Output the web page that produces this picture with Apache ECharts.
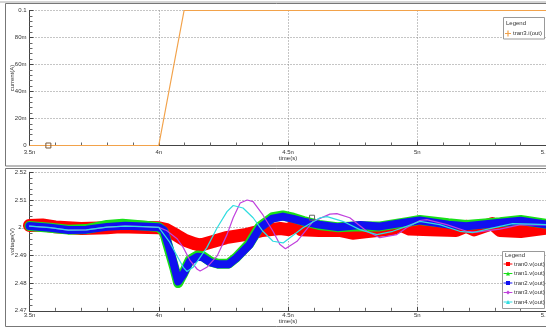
<!DOCTYPE html>
<html>
<head>
<meta charset="utf-8">
<script src="https://cdn.jsdelivr.net/npm/echarts@6/dist/echarts.min.js"></script>
<style>
html,body{margin:0;padding:0;background:#fff;}
#c{width:546px;height:331px;}
</style>
</head>
<body>
<div id="c"></div>
<script>
// ---- tick labels ----
const timeTicks = ['3.5n', '4n', '4.5n', '5n', '5.5n'];
const currentTicks = ['0', '20m', '40m', '60m', '80m', '0.1'];
const voltageTicks = ['2.47', '2.48', '2.49', '2.5', '2.51', '2.52'];

// ---- top panel: tran3.i(out) (time in ns, current in A) ----
const currentT = [3.5, 4.0, 4.098, 5.5];
const currentV = [0, 0, 0.1, 0.1];
const cursorTop = [3.573, 0];

// ---- bottom panel: v(out) (time in ns, voltage in V) ----
const tran0T = [3.5, 3.55, 3.6, 3.7, 3.8, 3.85, 3.92, 4.0, 4.03, 4.07, 4.1, 4.14, 4.16, 4.19, 4.21, 4.26, 4.34, 4.4, 4.47, 4.5, 4.535, 4.55, 4.62, 4.7, 4.75, 4.8, 4.9, 4.94, 4.97, 5.05, 5.15, 5.19, 5.22, 5.29, 5.32, 5.4, 5.5];
const tran0V = [2.5008, 2.5010, 2.5003, 2.4997, 2.5000, 2.5003, 2.5002, 2.5000, 2.4993, 2.4972, 2.4955, 2.4942, 2.4937, 2.4945, 2.4950, 2.4964, 2.4976, 2.4990, 2.4997, 2.4993, 2.5010, 2.4993, 2.4990, 2.4990, 2.4980, 2.4985, 2.4995, 2.5008, 2.4995, 2.4993, 2.4990, 2.5005, 2.4992, 2.5015, 2.4990, 2.4986, 2.4998];

const tran1T = [3.5, 3.58, 3.65, 3.72, 3.8, 3.86, 3.94, 4.0, 4.02, 4.04, 4.06, 4.075, 4.095, 4.12, 4.15, 4.17, 4.2, 4.23, 4.27, 4.3, 4.35, 4.39, 4.44, 4.48, 4.52, 4.56, 4.62, 4.69, 4.78, 4.85, 4.96, 5.01, 5.12, 5.19, 5.32, 5.4, 5.5];
const tran1V = [2.5006, 2.5000, 2.4993, 2.4995, 2.5010, 2.5014, 2.5008, 2.5002, 2.4985, 2.4920, 2.4855, 2.4800, 2.4835, 2.4884, 2.4900, 2.4897, 2.4878, 2.4870, 2.4870, 2.4893, 2.4942, 2.5003, 2.5038, 2.5044, 2.5036, 2.5024, 2.5010, 2.5002, 2.5005, 2.5004, 2.5020, 2.5028, 2.5016, 2.5010, 2.5020, 2.5028, 2.5014];

const tran2T = [3.5, 3.58, 3.65, 3.72, 3.8, 3.87, 3.94, 4.0, 4.02, 4.04, 4.06, 4.075, 4.095, 4.12, 4.15, 4.17, 4.2, 4.23, 4.27, 4.3, 4.35, 4.39, 4.44, 4.48, 4.52, 4.56, 4.62, 4.69, 4.78, 4.85, 4.96, 5.01, 5.12, 5.19, 5.32, 5.4, 5.5];
const tran2V = [2.5006, 2.5000, 2.4992, 2.4993, 2.5003, 2.5007, 2.5004, 2.5002, 2.4990, 2.4930, 2.4862, 2.4806, 2.4832, 2.4878, 2.4895, 2.4893, 2.4875, 2.4868, 2.4868, 2.4890, 2.4937, 2.4998, 2.5033, 2.5040, 2.5032, 2.5022, 2.5011, 2.5002, 2.5010, 2.5004, 2.5020, 2.5026, 2.5011, 2.5005, 2.5018, 2.5025, 2.5011];

const tran3T = [3.5, 3.58, 3.65, 3.72, 3.8, 3.87, 3.94, 4.0, 4.03, 4.071, 4.095, 4.122, 4.149, 4.16, 4.186, 4.226, 4.264, 4.288, 4.315, 4.342, 4.365, 4.403, 4.442, 4.469, 4.49, 4.535, 4.597, 4.662, 4.689, 4.739, 4.805, 4.855, 4.921, 4.959, 5.01, 5.037, 5.114, 5.191, 5.23, 5.32, 5.396, 5.5];
const tran3V = [2.5006, 2.5000, 2.4991, 2.4992, 2.5002, 2.5006, 2.5004, 2.5001, 2.4990, 2.4960, 2.4928, 2.4880, 2.4850, 2.4844, 2.4857, 2.4898, 2.4975, 2.5036, 2.5089, 2.5100, 2.5094, 2.5046, 2.4987, 2.4939, 2.4924, 2.4951, 2.5023, 2.5049, 2.5051, 2.5036, 2.4987, 2.4964, 2.4975, 2.5000, 2.5026, 2.5029, 2.5011, 2.4987, 2.4984, 2.4995, 2.5010, 2.5010];

const tran4T = [3.5, 3.58, 3.65, 3.72, 3.8, 3.87, 3.94, 4.0, 4.04, 4.071, 4.095, 4.109, 4.133, 4.186, 4.226, 4.264, 4.288, 4.326, 4.365, 4.403, 4.442, 4.481, 4.558, 4.624, 4.651, 4.712, 4.778, 4.844, 4.905, 4.959, 5.01, 5.087, 5.164, 5.214, 5.32, 5.369, 5.446, 5.5];
const tran4V = [2.5006, 2.5000, 2.4991, 2.4992, 2.5002, 2.5006, 2.5004, 2.5001, 2.4951, 2.4898, 2.4857, 2.4842, 2.4857, 2.4928, 2.5000, 2.5058, 2.5080, 2.5071, 2.5036, 2.4987, 2.4951, 2.4945, 2.5000, 2.5036, 2.5040, 2.5023, 2.4993, 2.4975, 2.4987, 2.5005, 2.5023, 2.5011, 2.4987, 2.4982, 2.5005, 2.5015, 2.5013, 2.5011];
const cursorBottom = [4.593, 2.5036];

const seriesNames = ['tran0.v(out)', 'tran1.v(out)', 'tran2.v(out)', 'tran3.v(out)', 'tran4.v(out)'];

// ---- build ----
const zip = (t, v) => t.map((x, i) => [x, v[i]]);
const FONT = 'Liberation Sans, Arial, sans-serif';
const txt = { fontSize: 6, color: '#333', fontFamily: FONT };

function xAxisCfg(gridIndex, labelMargin, nameGap) {
  return {
    type: 'value', gridIndex, min: 3.5, max: 5.5, interval: 0.5,
    name: 'time(s)', nameLocation: 'middle', nameGap, nameTextStyle: txt, nameMoveOverlap: false,
    axisLine: { show: true, onZero: false, lineStyle: { color: '#444', width: 1 } },
    axisTick: { show: true, inside: true, length: 4, lineStyle: { color: '#444' } },
    minorTick: { show: true, splitNumber: 5, length: 3, lineStyle: { color: '#666' } },
    axisLabel: Object.assign({ margin: labelMargin, formatter: v => timeTicks[Math.round((v - 3.5) / 0.5)] }, txt),
    splitLine: { show: true, lineStyle: { color: '#8a8a8a', type: [1, 2], width: 1 } }
  };
}
function yAxisCfg(gridIndex, name, min, max, interval, ticks) {
  return {
    type: 'value', gridIndex, min, max, interval,
    name, nameLocation: 'middle', nameGap: 14, nameRotate: 90, nameTextStyle: txt, nameMoveOverlap: false,
    axisLine: { show: true, onZero: false, lineStyle: { color: '#444', width: 1 } },
    axisTick: { show: true, inside: true, length: 4, lineStyle: { color: '#444' } },
    minorTick: { show: true, splitNumber: 5, length: 3, lineStyle: { color: '#666' } },
    axisLabel: Object.assign({ margin: 3, formatter: v => ticks[Math.round((v - min) / interval)] }, txt),
    splitLine: { show: true, lineStyle: { color: '#8a8a8a', type: [1, 2], width: 1 } }
  };
}

const colors = ['#ff0000', '#18e018', '#1010f0', '#c040dd', '#30dde0'];
const widths = [13, 10, 8, 1.2, 1.2];
const symbols = ['rect', 'triangle', 'rect', 'diamond', 'triangle'];
const bottomData = [zip(tran0T, tran0V), zip(tran1T, tran1V), zip(tran2T, tran2V), zip(tran3T, tran3V), zip(tran4T, tran4V)];

const series = [{
  name: 'tran3.i(out)', type: 'line', xAxisIndex: 0, yAxisIndex: 0,
  data: zip(currentT, currentV), showSymbol: false, symbol: 'none',
  lineStyle: { color: '#f2a24a', width: 1.2 }, itemStyle: { color: '#f2a24a' },
  animation: false,
  markPoint: {
    symbol: 'rect', symbolSize: 5, label: { show: false }, silent: true,
    itemStyle: { color: 'rgba(0,0,0,0)', borderColor: '#7a5a3a', borderWidth: 1 },
    data: [{ coord: cursorTop }]
  }
}];
bottomData.forEach((d, i) => {
  const s = {
    name: seriesNames[i], type: 'line', xAxisIndex: 1, yAxisIndex: 1,
    data: d, showSymbol: false, symbol: symbols[i], symbolSize: 5,
    lineStyle: { color: colors[i], width: widths[i], cap: 'round', join: 'round' },
    itemStyle: { color: colors[i] }, animation: false, z: 2 + i * 0.1
  };
  if (i === 4) {
    s.markPoint = {
      symbol: 'rect', symbolSize: 5, label: { show: false }, silent: true,
      itemStyle: { color: 'rgba(0,0,0,0)', borderColor: '#666', borderWidth: 1 },
      data: [{ coord: cursorBottom }]
    };
  }
  series.push(s);
});

const chart = echarts.init(document.getElementById('c'), null, { renderer: 'canvas' });
chart.setOption({
  animation: false,
  backgroundColor: '#fff',
  grid: [
    { left: 29.5, top: 10.5, width: 517, height: 135, containLabel: false, outerBoundsMode: 'none' },
    { left: 29.5, top: 172.3, width: 517, height: 138.5, containLabel: false, outerBoundsMode: 'none' }
  ],
  xAxis: [xAxisCfg(0, 4, 10), xAxisCfg(1, 2, 8)],
  yAxis: [
    yAxisCfg(0, 'current(A)', 0, 0.1, 0.02, currentTicks),
    yAxisCfg(1, 'voltage(V)', 2.47, 2.52, 0.01, voltageTicks)
  ],
  legend: [
    {
      data: [{ name: 'tran3.i(out)', icon: 'path://M4,0h2v10h-2z M0,4h10v2h-10z' }],
      left: 505, top: 30.5, itemWidth: 6, itemHeight: 6, itemGap: 2, padding: 0,
      textStyle: Object.assign({ padding: [0, 0, 0, -3] }, txt), selectedMode: false, z: 10
    },
    {
      data: seriesNames, orient: 'vertical', left: 503.5, top: 261,
      itemWidth: 8, itemHeight: 5, itemGap: 3.5, padding: 0,
      textStyle: Object.assign({ lineHeight: 6, padding: [0, 0, 0, -3] }, txt),
      lineStyle: { width: 1 }, selectedMode: false, z: 10
    }
  ],
  graphic: [
    { type: 'rect', z: 0, silent: true, shape: { x: 5.5, y: 3.5, width: 545, height: 162.5 }, style: { fill: null, stroke: '#777', lineWidth: 1 } },
    { type: 'line', z: 0, silent: true, shape: { x1: 0, y1: 2, x2: 546, y2: 2 }, style: { stroke: '#aaa', lineWidth: 1 } },
    { type: 'rect', z: 0, silent: true, shape: { x: 5.5, y: 168.5, width: 545, height: 158 }, style: { fill: null, stroke: '#777', lineWidth: 1 } },
    { type: 'rect', z: 8, silent: true, shape: { x: 503.5, y: 17.5, width: 41, height: 21.5 }, style: { fill: '#fff', stroke: '#999', lineWidth: 1 } },
    { type: 'text', z: 9, silent: true, style: { x: 506, y: 20.5, text: 'Legend', font: '6px ' + FONT, fill: '#333' } },
    { type: 'rect', z: 8, silent: true, shape: { x: 502.5, y: 251.5, width: 42, height: 57 }, style: { fill: '#fff', stroke: '#999', lineWidth: 1 } },
    { type: 'text', z: 9, silent: true, style: { x: 505, y: 252.5, text: 'Legend', font: '6px ' + FONT, fill: '#333' } }
  ],
  series
});
</script>
</body>
</html>
